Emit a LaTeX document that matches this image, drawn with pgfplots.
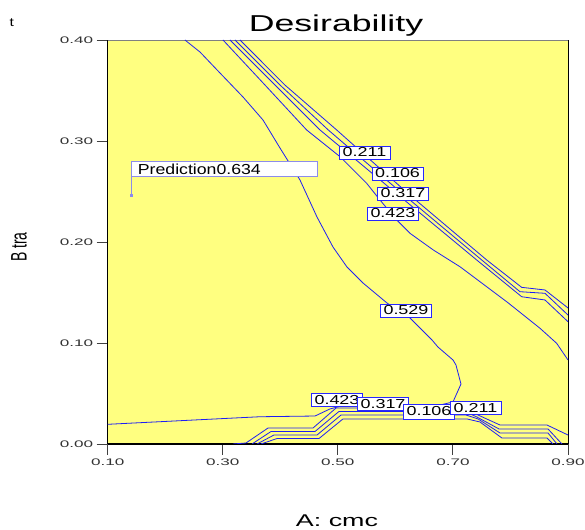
\documentclass[border=0pt]{standalone}
\usepackage{fontspec}
\setmainfont{Liberation Sans}
\usepackage{graphicx}
\usepackage{pgfplots}
\pgfplotsset{compat=1.18}
\definecolor{bgyellow}{RGB}{255,255,128}
\definecolor{cblue}{RGB}{30,30,245}
\definecolor{lblue}{RGB}{40,40,255}
\definecolor{pbox}{RGB}{140,140,235}
\newcommand\sx[2]{\scalebox{#1}[1]{#2}}
\tikzset{clab/.style={draw=lblue, fill=white, line width=0.9pt, inner sep=0pt,
  minimum width=51pt, minimum height=13pt, font=\fontsize{13}{13}\selectfont}}
\begin{document}
\begin{tikzpicture}
\useasboundingbox (0,0) rectangle (585pt,529pt);
\begin{axis}[
  at={(107.7pt,85pt)}, anchor=south west,
  scale only axis, width=460.3pt, height=404pt,
  xmin=0.1, xmax=0.9, ymin=0, ymax=0.4,
  axis background/.style={fill=bgyellow},
  axis x line*=bottom, axis y line*=left,
  axis line style={-, black, line width=1.2pt},
  xtick={0.1,0.3,0.5,0.7,0.9}, ytick={0,0.1,0.2,0.3,0.4},
  xticklabels={\sx{1.8}{0.10},\sx{1.8}{0.30},\sx{1.8}{0.50},\sx{1.8}{0.70},\sx{1.8}{0.90}},
  yticklabels={\sx{1.8}{0.00},\sx{1.8}{0.10},\sx{1.8}{0.20},\sx{1.8}{0.30},\sx{1.8}{0.40}},
  tick align=outside, major tick length=11pt,
  tick style={black!75, line width=0.9pt},
  ticklabel style={font=\fontsize{9.5}{9.5}\selectfont, text=black!80},
  clip mode=individual,
]
% frame top and right
\draw[gray, line width=0.8pt] (rel axis cs:0,1) -- (rel axis cs:1,1);
\draw[black, line width=1pt] (rel axis cs:1,0) -- (rel axis cs:1,1);

% contour 0.529 (upper curve)
\addplot[cblue, line width=0.8pt] coordinates {
(0.2343,0.4000) (0.2604,0.3881) (0.2952,0.3673) (0.3351,0.3436) (0.3699,0.3208)
(0.3994,0.2931) (0.4342,0.2614) (0.4637,0.2248) (0.4916,0.1950) (0.5159,0.1752)
(0.5437,0.1594) (0.5854,0.1396) (0.6254,0.1248) (0.6636,0.1030) (0.6740,0.0960)
(0.7001,0.0832) (0.7053,0.0782) (0.7140,0.0594) (0.7001,0.0416) (0.6775,0.0386)
(0.5124,0.0386) (0.4863,0.0347) (0.4603,0.0277) (0.3647,0.0270) (0.1000,0.0195)};

% contour 0.423 (diagonal)
\addplot[cblue, line width=0.8pt] coordinates {
(0.3004,0.4000) (0.3734,0.3554) (0.4458,0.3109) (0.5037,0.2845) (0.5501,0.2581)
(0.5732,0.2416) (0.6023,0.2218) (0.6254,0.2086) (0.6659,0.1921) (0.7123,0.1755)
(0.7587,0.1557) (0.7934,0.1409) (0.8513,0.1146) (0.8803,0.0997) (0.9000,0.0832)};

% tight diagonal group (lower, middle, upper)
\addplot[cblue, line width=0.8pt] coordinates {
(0.3125,0.4000) (0.3908,0.3554) (0.4690,0.3109) (0.6050,0.2465) (0.7413,0.1822)
(0.8195,0.1458) (0.8600,0.1426) (0.9000,0.1211)};
\addplot[cblue, line width=0.8pt] coordinates {
(0.3212,0.4000) (0.3995,0.3554) (0.4834,0.3109) (0.6150,0.2465) (0.7500,0.1822)
(0.8165,0.1508) (0.8600,0.1492) (0.9000,0.1277)};
\addplot[cblue, line width=0.8pt] coordinates {
(0.3299,0.4000) (0.4080,0.3554) (0.4980,0.3109) (0.6250,0.2465) (0.7587,0.1822)
(0.8195,0.1551) (0.8600,0.1525) (0.9000,0.1347)};

% bottom bump
\addplot[cblue, line width=0.8pt] coordinates {
(0.3178,0.0000) (0.3404,0.0010) (0.3786,0.0158) (0.4568,0.0158) (0.4968,0.0356)
(0.7210,0.0356) (0.7436,0.0287) (0.7818,0.0188) (0.8635,0.0188) (0.9000,0.0089)};
\addplot[cblue, line width=0.8pt] coordinates {
(0.3508,0.0000) (0.3839,0.0124) (0.4603,0.0124) (0.5020,0.0322) (0.7210,0.0322)
(0.7418,0.0267) (0.7800,0.0149) (0.8652,0.0149) (0.8895,0.0000)};
\addplot[cblue, line width=0.8pt] coordinates {
(0.3595,0.0000) (0.3890,0.0089) (0.4638,0.0089) (0.5055,0.0287) (0.7227,0.0287)
(0.7436,0.0248) (0.7818,0.0109) (0.8652,0.0109) (0.8809,0.0000)};
\addplot[cblue, line width=0.8pt] coordinates {
(0.3664,0.0000) (0.3942,0.0054) (0.4672,0.0054) (0.5089,0.0248) (0.7244,0.0248)
(0.7470,0.0218) (0.7852,0.0059) (0.8635,0.0059) (0.8739,0.0000)};

% prediction flag
\addplot[pbox, line width=0.8pt, mark=square*, mark size=0.9pt, mark indices={1}] coordinates {
(0.1405,0.2465) (0.1405,0.2644)};
\node[draw=pbox, fill=white, line width=0.8pt, inner sep=0pt, anchor=south west,
  minimum width=186pt, minimum height=15pt, text width=181pt, align=left,
  font=\fontsize{14.5}{14.5}\selectfont]
  at (axis cs:0.1405,0.2644) {\hspace*{4pt}\sx{1.22}{Prediction0.634}};

% contour labels
\node[clab] at (axis cs:0.5463,0.2886) {\sx{1.38}{0.211}};
\node[clab] at (axis cs:0.6037,0.2678) {\sx{1.38}{0.106}};
\node[clab] at (axis cs:0.6132,0.2480) {\sx{1.38}{0.317}};
\node[clab] at (axis cs:0.5958,0.2282) {\sx{1.38}{0.423}};
\node[clab] at (axis cs:0.6184,0.1322) {\sx{1.38}{0.529}};
\node[clab] at (axis cs:0.4985,0.0436) {\sx{1.38}{0.423}};
\node[clab] at (axis cs:0.5785,0.0396) {\sx{1.38}{0.317}};
\node[clab, minimum height=15pt] at (axis cs:0.6584,0.0322) {\sx{1.38}{0.106}};
\node[clab] at (axis cs:0.7392,0.0361) {\sx{1.38}{0.211}};
\end{axis}
\node[anchor=base, inner sep=0pt] at (336pt,497pt) {\fontsize{23}{23}\selectfont\sx{1.55}{Desirability}};
\node[anchor=base, inner sep=0pt] at (337pt,2.3pt) {\fontsize{17}{17}\selectfont\sx{1.58}{A: cmc}};
\node[rotate=90, inner sep=0pt] at (19pt,282pt) {\fontsize{14}{14}\selectfont\scalebox{1}[1.6]{B tra}};
\node[inner sep=0pt] at (11.7pt,506.5pt) {\fontsize{12}{12}\selectfont\sx{1.3}{t}};
\end{tikzpicture}
\end{document}
